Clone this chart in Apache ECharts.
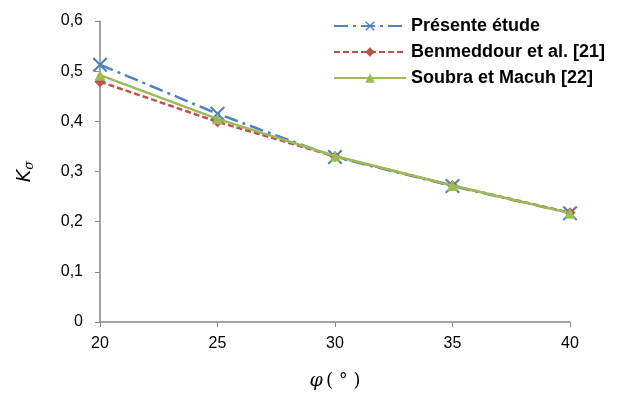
<!DOCTYPE html>
<html><head><meta charset="utf-8">
<script src="https://cdn.jsdelivr.net/npm/echarts@6/dist/echarts.min.js"></script>
<style>html,body{margin:0;padding:0;background:#fff}#c{width:618px;height:399px}</style>
</head><body><div id="c"></div>
<script>
const phi = [20, 25, 30, 35, 40];
const presente = [0.513, 0.415, 0.329, 0.271, 0.217];
const benmeddour = [0.479, 0.399, 0.330, 0.272, 0.218];
const soubra = [0.492, 0.405, 0.331, 0.272, 0.217];
const names = ['Présente étude', 'Benmeddour et al. [21]', 'Soubra et Macuh [22]'];
const yTicks = [0, 0.1, 0.2, 0.3, 0.4, 0.5, 0.6];

const pair = (xs, ys) => xs.map((x, i) => [x, ys[i]]);
const font = 'Liberation Sans';
const xShape = 'path://M0,1L1,0L5,4L9,0L10,1L6,5L10,9L9,10L5,6L1,10L0,9L4,5Z';

const chart = echarts.init(document.getElementById('c'));
chart.setOption({
  animation: false,
  grid: {left: 100, right: 48, top: 21, bottom: 77},
  legend: {
    orient: 'vertical', left: 328, top: 12, itemWidth: 72, itemHeight: 12, itemGap: 8, itemTextGap: 7,
    textStyle: {fontFamily: font, fontSize: 18, fontWeight: 'bold', color: '#000'},
    data: names
  },
  xAxis: {
    type: 'value', min: 20, max: 40, interval: 5,
    axisLine: {lineStyle: {color: '#868686', width: 1.5}},
    axisTick: {inside: false, length: 5, lineStyle: {color: '#868686'}},
    splitLine: {show: false},
    axisLabel: {fontFamily: font, fontSize: 16, color: '#000', margin: 14},
    name: '{p|φ} {n|( ° )}', nameLocation: 'middle', nameGap: 50,
    nameTextStyle: {rich: {p: {fontFamily: 'DejaVu Serif', fontStyle: 'italic', fontSize: 19, color: '#000'}, n: {fontFamily: 'DejaVu Serif', fontSize: 18, color: '#000'}}}
  },
  yAxis: {
    type: 'value', min: 0, max: 0.6, interval: 0.1,
    axisLine: {show: true, lineStyle: {color: '#868686', width: 1.5}},
    axisTick: {show: true, inside: false, length: 5, lineStyle: {color: '#868686'}},
    splitLine: {show: false},
    axisLabel: {fontFamily: font, fontSize: 16, color: '#000', margin: 17,
      formatter: v => v === 0 ? '0' : v.toFixed(1).replace('.', ',')},
    name: '{k|K}{s|σ}', nameLocation: 'middle', nameGap: 64, nameRotate: 90,
    nameTextStyle: {rich: {k: {fontFamily: 'DejaVu Sans', fontStyle: 'italic', fontSize: 19, color: '#000'}, s: {fontFamily: 'DejaVu Serif', fontStyle: 'italic', fontSize: 13, color: '#000', verticalAlign: 'bottom', padding: [8, 0, 0, 0]}}}
  },
  series: [
    {name: names[0], type: 'line', data: pair(phi, presente), symbol: xShape, symbolSize: 15,
      itemStyle: {color: '#4F81BD'}, lineStyle: {color: '#4F81BD', width: 2.5, type: [14, 5, 3, 5]}, z: 3},
    {name: names[1], type: 'line', data: pair(phi, benmeddour), symbol: 'diamond', symbolSize: 11,
      itemStyle: {color: '#C0504D'}, lineStyle: {color: '#C0504D', width: 2.5, type: [6, 3]}, z: 4},
    {name: names[2], type: 'line', data: pair(phi, soubra), symbol: 'triangle', symbolSize: 11,
      itemStyle: {color: '#9BBB59'}, lineStyle: {color: '#9BBB59', width: 2.5}, z: 5}
  ]
});
</script></body></html>
